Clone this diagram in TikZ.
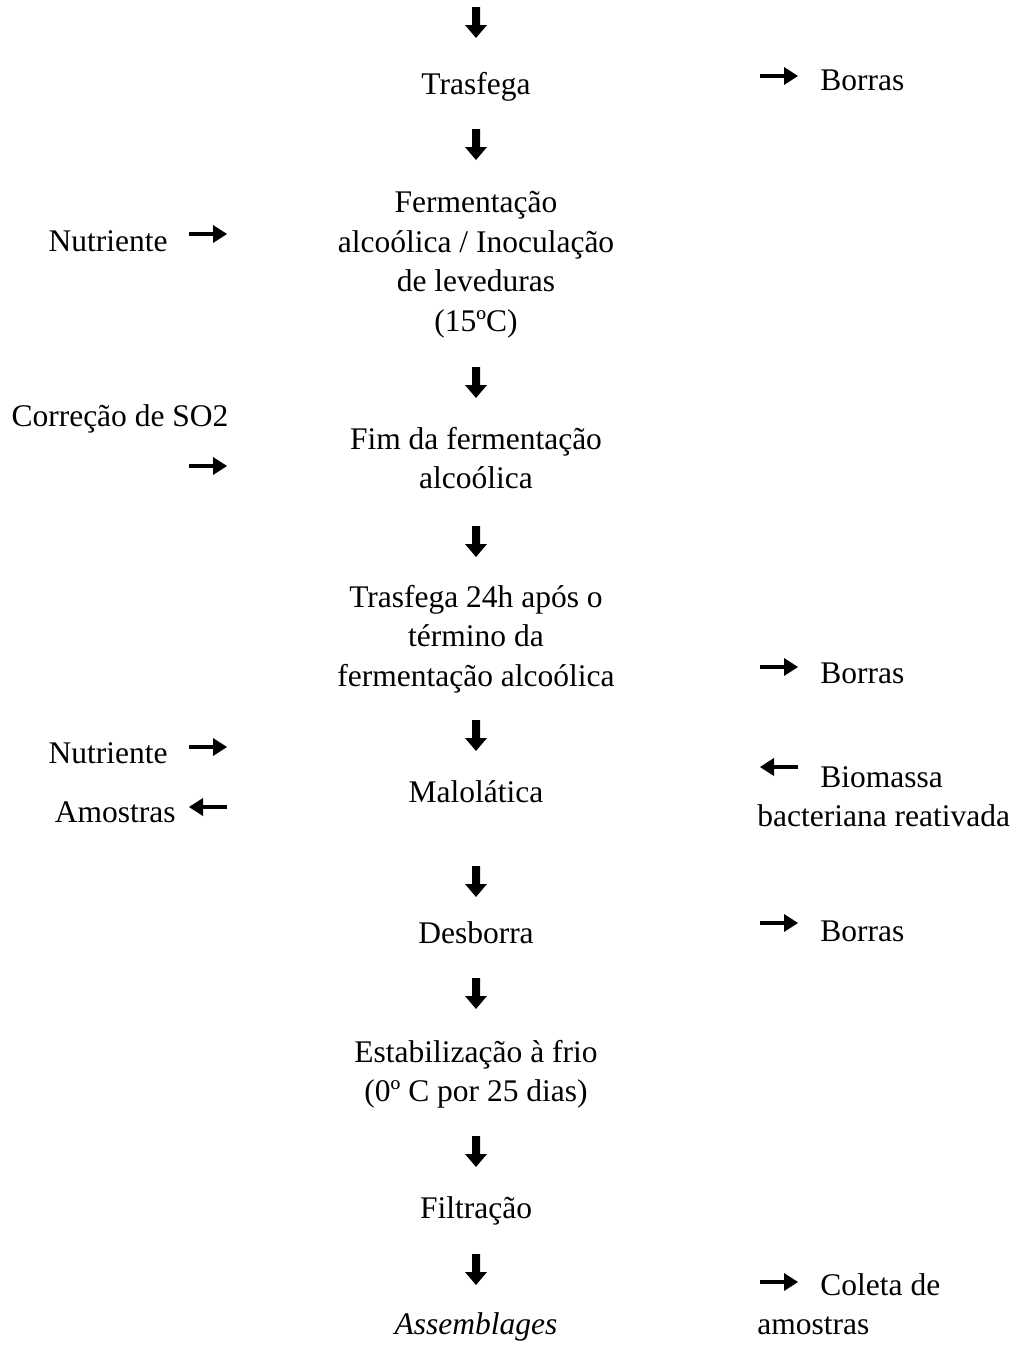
\documentclass[tikz,border=0pt]{standalone}
\usepackage{fontspec}
\setmainfont{Liberation Serif}
\begin{document}
\begin{tikzpicture}[x=0.5pt,y=-0.5pt,
  txt/.style={inner sep=0pt, align=center, font=\fontsize{15.75}{19.75}\selectfont},
  ltxt/.style={inner sep=0pt, align=left, anchor=west, font=\fontsize{15.75}{19.75}\selectfont},
  darr/.pic={\fill (-4,-16) -- (4,-16) -- (4,2) -- (11,2) -- (0,15) -- (-11,2) -- (-4,2) -- cycle;},
  rarr/.pic={\draw[line width=2.2pt] (-19,0) -- (7,0); \fill (5,-9) -- (19,0) -- (5,9) -- cycle;},
  larr/.pic={\draw[line width=2.2pt] (19,0) -- (-7,0); \fill (-5,-9) -- (-19,0) -- (-5,9) -- cycle;}
]
\useasboundingbox (0,0) rectangle (1019,1345);

% main flow
\node[txt] (trasfega) at (476,87) {\strut Trasfega};
\node[txt] (ferm) at (476,264) {\strut Fermentação\\\strut alcoólica / Inoculação\\\strut de leveduras\\\strut (15ºC)};
\node[txt] (fim) at (476,461) {\strut Fim da fermentação\\\strut alcoólica};
\node[txt] (trasf2) at (476,639) {\strut Trasfega 24h após o\\\strut término da\\\strut fermentação alcoólica};
\node[txt] (malo) at (476,795) {\strut Malolática};
\node[txt] (desb) at (476,936) {\strut Desborra};
\node[txt] (estab) at (476,1074) {\strut Estabilização à frio\\\strut (0º C por 25 dias)};
\node[txt] (filtr) at (476,1211) {\strut Filtração};
\node[txt] (assem) at (476,1327) {\strut\itshape Assemblages};

% down arrows
\foreach \yy in {23,145,383,542,736,882,994,1152,1270}
  \pic at (476,\yy) {darr};

% left side
\node[txt, anchor=east] (nutr1) at (168,244) {\strut Nutriente};
\node[txt] (corr) at (120,419) {\strut Correção de SO2};
\node[txt, anchor=east] (nutr2) at (168,756) {\strut Nutriente};
\node[txt, anchor=east] (amos) at (176,815) {\strut Amostras};
\pic at (208,234) {rarr};
\pic at (208,466) {rarr};
\pic at (208,747) {rarr};
\pic at (208,807) {larr};

% right side
\node[ltxt] (borras1) at (820,83) {\strut Borras};
\node[ltxt] (borras2) at (820,676) {\strut Borras};
\node[ltxt] (borras3) at (820,934) {\strut Borras};
\node[ltxt] (biom) at (757,799) {\hspace*{31.5pt}\strut Biomassa\\\strut bacteriana reativada};
\node[ltxt] (coleta) at (757,1307) {\hspace*{31.5pt}\strut Coleta de\\\strut amostras};
\pic at (779,76) {rarr};
\pic at (779,667) {rarr};
\pic at (779,923) {rarr};
\pic at (779,1282) {rarr};
\pic at (779,767) {larr};
\end{tikzpicture}
\end{document}
